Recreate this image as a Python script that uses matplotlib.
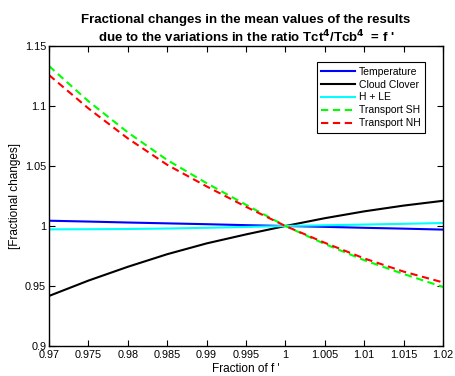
import matplotlib
matplotlib.use("Agg")
import matplotlib.pyplot as plt

plt.rcParams['font.family'] = ['Liberation Sans', 'DejaVu Sans']

x = [0.97, 0.975, 0.98, 0.985, 0.99, 0.995, 1.0, 1.005, 1.01, 1.015, 1.02]
temperature = [1.0044, 1.0037, 1.0029, 1.0022, 1.0015, 1.0007, 1.0, 0.9993, 0.9985, 0.9978, 0.9970]
cloud_clover = [0.9417, 0.9545, 0.9660, 0.9765, 0.9855, 0.9930, 1.0, 1.0065, 1.0122, 1.0170, 1.0210]
h_le = [0.9972, 0.9973, 0.9975, 0.9979, 0.9985, 0.9992, 1.0, 1.0006, 1.0012, 1.0018, 1.0025]
transport_sh = [1.1333, 1.1040, 1.0780, 1.0550, 1.0357, 1.0177, 1.0, 0.9850, 0.9715, 0.9600, 0.9492]
transport_nh = [1.1258, 1.0980, 1.0730, 1.0510, 1.0330, 1.0160, 1.0, 0.9860, 0.9730, 0.9620, 0.9530]

xticks = [0.97, 0.975, 0.98, 0.985, 0.99, 0.995, 1.0, 1.005, 1.01, 1.015, 1.02]
xticklabels = ["0.97", "0.975", "0.98", "0.985", "0.99", "0.995", "1", "1.005", "1.01", "1.015", "1.02"]
yticks = [0.9, 0.95, 1.0, 1.05, 1.1, 1.15]
yticklabels = ["0.9", "0.95", "1", "1.05", "1.1", "1.15"]

fig = plt.figure(figsize=(4.56, 3.76), dpi=100)
ax = fig.add_axes([49/456, 30/376, 394/456, 300/376])

lw = 1.5
ax.plot(x, temperature, color='#0000ff', lw=lw, label='Temperature')
ax.plot(x, cloud_clover, color='black', lw=lw, label='Cloud Clover')
ax.plot(x, h_le, color='#00ffff', lw=lw, label='H + LE')
ax.plot(x, transport_sh, color='#00ff00', lw=lw, ls=(0, (3.5, 2.2)), label='Transport SH')
ax.plot(x, transport_nh, color='#ff0000', lw=lw, ls=(0, (3.5, 2.2)), label='Transport NH')

ax.set_xlim(0.97, 1.02)
ax.set_ylim(0.9, 1.15)
ax.set_xticks(xticks)
ax.set_xticklabels(xticklabels)
ax.set_yticks(yticks)
ax.set_yticklabels(yticklabels)
ax.tick_params(direction='in', top=True, right=True, labelsize=7.8, length=4, width=0.8)
ax.tick_params(axis='x', pad=3)
ax.tick_params(axis='y', pad=2)
for s in ax.spines.values():
    s.set_linewidth(1.0)

ax.set_xlabel("Fraction of f '", fontsize=8.5, labelpad=2)
ax.set_ylabel("[Fractional changes]", fontsize=8.5, labelpad=3)
ax.set_title("Fractional changes in the mean values of the results\n"
             "due to the variations in the ratio Tct$^{\\mathbf{4}}$/Tcb$^{\\mathbf{4}}$  = f '",
             fontsize=9.5, fontweight='bold', pad=3, linespacing=1.2)

leg = ax.legend(loc='upper right', bbox_to_anchor=(0.955, 0.947), fontsize=7.5,
                frameon=True, fancybox=False, edgecolor='black', framealpha=1,
                handlelength=3.2, handletextpad=0.4, borderpad=0.45, labelspacing=0.28,
                borderaxespad=0)
leg.get_frame().set_linewidth(0.8)

fig.savefig("out.png", dpi=100)
